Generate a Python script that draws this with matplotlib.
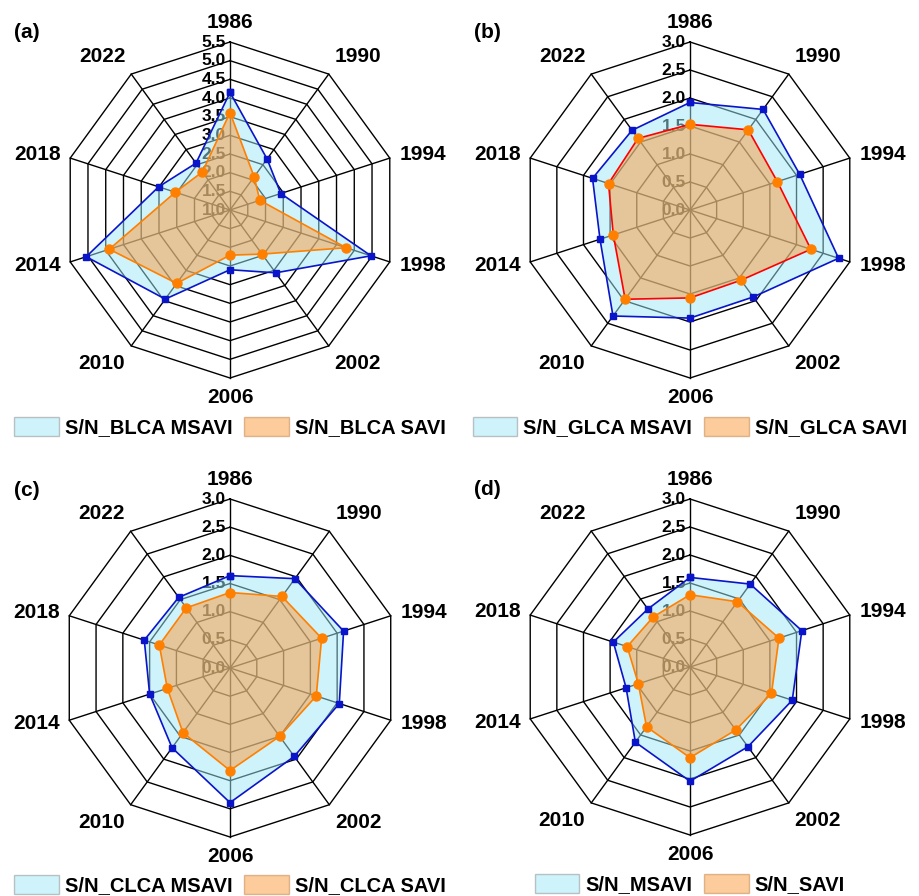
import numpy as np
import matplotlib.pyplot as plt
from matplotlib.patches import Patch

plt.rcParams['font.family'] = ['Liberation Sans', 'DejaVu Sans']
plt.rcParams['font.weight'] = 'bold'

years = ['1986', '1990', '1994', '1998', '2002', '2006', '2010', '2014', '2018', '2022']

# S/N ratios per year, clockwise from 1986
blca_msavi = [4.15, 2.69, 2.43, 4.97, 3.08, 2.60, 3.95, 5.05, 3.01, 2.55]
blca_savi = [3.61, 2.10, 1.84, 4.27, 2.46, 2.21, 3.43, 4.40, 2.54, 2.26]
glca_msavi = [1.92, 2.22, 2.06, 2.79, 1.92, 1.93, 2.34, 1.69, 1.83, 1.76]
glca_savi = [1.53, 1.77, 1.64, 2.27, 1.55, 1.57, 1.97, 1.44, 1.53, 1.58]
clca_msavi = [1.64, 1.96, 2.12, 2.04, 1.94, 2.39, 1.75, 1.50, 1.60, 1.55]
clca_savi = [1.34, 1.57, 1.71, 1.61, 1.50, 1.82, 1.42, 1.17, 1.32, 1.32]
all_msavi = [1.60, 1.83, 2.10, 1.92, 1.76, 2.04, 1.66, 1.20, 1.44, 1.28]
all_savi = [1.29, 1.44, 1.67, 1.53, 1.39, 1.62, 1.32, 0.97, 1.18, 1.11]

ticks_blca = [1.0, 1.5, 2.0, 2.5, 3.0, 3.5, 4.0, 4.5, 5.0, 5.5]
ticks_other = [0.0, 0.5, 1.0, 1.5, 2.0, 2.5, 3.0]

legend_a = ['S/N_BLCA MSAVI', 'S/N_BLCA SAVI']
legend_b = ['S/N_GLCA MSAVI', 'S/N_GLCA SAVI']
legend_c = ['S/N_CLCA MSAVI', 'S/N_CLCA SAVI']
legend_d = ['S/N_MSAVI', 'S/N_SAVI']

CYAN = '#9ee9f9'
ORANGE = '#fb9a3a'
BLUE = '#0a14c8'
ORANGE_LINE = '#ff8000'

FIG_W, FIG_H = 919, 896
BOX = 470  # pixel size of each panel's axes

fig = plt.figure(figsize=(FIG_W / 100, FIG_H / 100), dpi=100)


def radar(center, R, tag, ticks, msavi, savi, names, savi_edge):
    cx, cy = center
    ax = fig.add_axes([(cx - BOX / 2) / FIG_W, 1 - (cy + BOX / 2) / FIG_H,
                       BOX / FIG_W, BOX / FIG_H])
    half = BOX / 2 / R
    ax.set_xlim(-half, half)
    ax.set_ylim(-half, half)
    ax.axis('off')

    n = len(years)
    ang = np.arange(n + 1) * 2 * np.pi / n
    lo, hi = ticks[0], ticks[-1]

    def xy(vals):
        v = np.append(vals, vals[0])
        r = (v - lo) / (hi - lo)
        return r * np.sin(ang), r * np.cos(ang)

    # decagon rings and spokes
    for t in ticks[1:]:
        r = (t - lo) / (hi - lo)
        ax.plot(r * np.sin(ang), r * np.cos(ang), color='k', lw=1.0, zorder=1)
    for a in ang[:-1]:
        ax.plot([0, np.sin(a)], [0, np.cos(a)], color='k', lw=1.0, zorder=1)

    # radial tick labels on the 1986 spoke
    for t in ticks:
        r = (t - lo) / (hi - lo)
        ax.text(-4 / R, r, f'{t:.1f}', ha='right', va='center',
                fontsize=12.5, zorder=2)

    # year labels around the outside
    gap = 10 / R
    for name, a in zip(years, ang[:-1]):
        s, c = np.sin(a), np.cos(a)
        ha = 'center' if abs(s) < 0.3 else ('left' if s > 0 else 'right')
        va = 'center' if abs(c) < 0.5 else ('bottom' if c > 0 else 'top')
        ax.text(s * (1 + gap), c * (1 + gap), name, ha=ha, va=va, fontsize=15)

    ax.text(-203 / R, 178 / R, tag, ha='center', va='center', fontsize=15)

    x, y = xy(msavi)
    ax.fill(x, y, color=CYAN, alpha=0.5, lw=0, zorder=4)
    ax.plot(x, y, color=BLUE, lw=1.2, marker='s', ms=5, zorder=5)
    x, y = xy(savi)
    ax.fill(x, y, color=ORANGE, alpha=0.5, lw=0, zorder=6)
    ax.plot(x, y, color=savi_edge, lw=1.2, zorder=7)
    ax.plot(x[:-1], y[:-1], ls='none', marker='o', ms=6.5,
            color=ORANGE_LINE, zorder=8)

    handles = [Patch(facecolor=CYAN, edgecolor='#8a8a8a', alpha=0.5, lw=1),
               Patch(facecolor=ORANGE, edgecolor='#c08040', alpha=0.5, lw=1)]
    ax.legend(handles, names, loc='center', ncol=2, frameon=False,
              bbox_to_anchor=(0, -217 / R), bbox_transform=ax.transData,
              fontsize=14.5, handlelength=2.2, handleheight=1.1,
              handletextpad=0.3, columnspacing=0.6)
    return ax


radar((230, 210), 168, '(a)', ticks_blca, blca_msavi, blca_savi, legend_a, ORANGE_LINE)
radar((690, 210), 168, '(b)', ticks_other, glca_msavi, glca_savi, legend_b, '#ff0000')
radar((230, 668), 169, '(c)', ticks_other, clca_msavi, clca_savi, legend_c, ORANGE_LINE)
radar((690, 667), 168, '(d)', ticks_other, all_msavi, all_savi, legend_d, ORANGE_LINE)

fig.savefig('out.png', dpi=100)
